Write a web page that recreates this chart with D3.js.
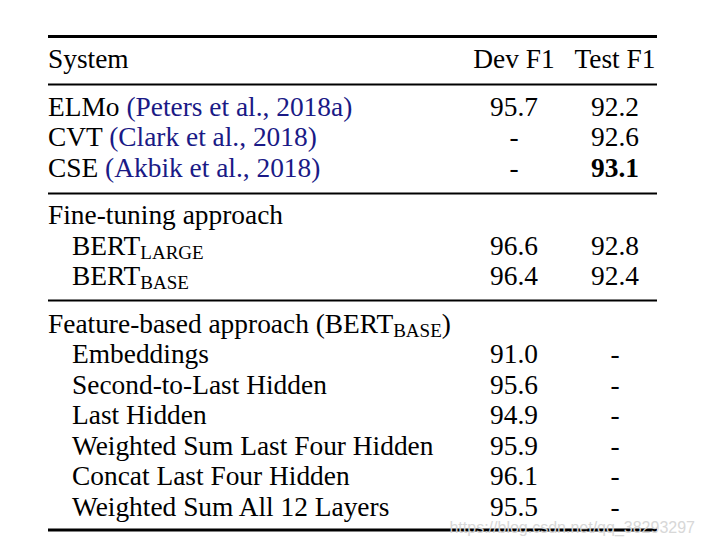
<!DOCTYPE html>
<html>
<head>
<meta charset="utf-8">
<script src="https://cdn.jsdelivr.net/npm/d3@7/dist/d3.min.js"></script>
<style>
  html, body { margin: 0; padding: 0; background: #fff; }
  svg { display: block; }
</style>
</head>
<body>
<svg id="chart" width="703" height="547"></svg>
<script>
// ---- data ----
const headers = ["System", "Dev F1", "Test F1"];
const groupTitles = [null, null, "Fine-tuning approach", "Feature-based approach (BERT|BASE|)"];
const systemNames = ["ELMo", "CVT", "CSE"];
const citations = ["(Peters et al., 2018a)", "(Clark et al., 2018)", "(Akbik et al., 2018)"];
const systemDev = ["95.7", "-", "-"];
const systemTest = ["92.2", "92.6", "93.1"];
const fineTuneNames = ["BERT|LARGE", "BERT|BASE"];
const fineTuneDev = ["96.6", "96.4"];
const fineTuneTest = ["92.8", "92.4"];
const featureNames = ["Embeddings", "Second-to-Last Hidden", "Last Hidden",
  "Weighted Sum Last Four Hidden", "Concat Last Four Hidden", "Weighted Sum All 12 Layers"];
const featureDev = ["91.0", "95.6", "94.9", "95.9", "96.1", "95.5"];
const featureTest = ["-", "-", "-", "-", "-", "-"];
const bestTest = "93.1";
const watermark = "https://blog.csdn.net/qq_38293297";

// ---- build rows ----
const rows = [];
let idx = 0;
rows.push({ i: idx++, g: 0, name: headers[0], dev: headers[1], test: headers[2], indent: false, header: true });
systemNames.forEach((n, k) => rows.push({ i: idx++, g: 1, name: n, cite: citations[k], dev: systemDev[k], test: systemTest[k], indent: false }));
rows.push({ i: idx++, g: 2, name: groupTitles[2], dev: "", test: "", indent: false });
fineTuneNames.forEach((n, k) => rows.push({ i: idx++, g: 2, name: n, dev: fineTuneDev[k], test: fineTuneTest[k], indent: true }));
rows.push({ i: idx++, g: 3, name: groupTitles[3], dev: "", test: "", indent: false });
featureNames.forEach((n, k) => rows.push({ i: idx++, g: 3, name: n, dev: featureDev[k], test: featureTest[k], indent: true }));

// ---- layout ----
const W = 703, H = 547;
const left = 48, right = 657;
const fontSize = 27.4, subSize = 19;
const pitch = 30.5, groupGap = 17, firstBase = 68;
const rowY = d3.scaleLinear().domain([0, 1]).range([firstBase, firstBase + pitch]);
const yOf = d => rowY(d.i) + d.g * groupGap;
const col = d3.scaleOrdinal().domain(["name", "dev", "test"]).range([left, 514, 615]);
const font = "'Liberation Serif', 'Times New Roman', Times, serif";

const svg = d3.select("#chart");
svg.append("rect").attr("width", W).attr("height", H).attr("fill", "#fff");

// rules
const lastOfGroup = d3.rollups(rows, v => d3.max(v, yOf), d => d.g).map(d => d[1]);
const rules = [
  { y: firstBase - 31.5, w: 3 },
  { y: lastOfGroup[0] + 16.5, w: 2.2 },
  { y: lastOfGroup[1] + 17, w: 2.2 },
  { y: lastOfGroup[2] + 15.5, w: 2.2 },
  { y: lastOfGroup[3] + 14.5, w: 3 }
];
svg.selectAll("line.rule").data(rules).join("line")
  .attr("class", "rule")
  .attr("x1", left).attr("x2", right)
  .attr("y1", d => d.y).attr("y2", d => d.y)
  .attr("stroke", "#000").attr("stroke-width", d => d.w);

// name column
const nameText = svg.selectAll("text.name").data(rows).join("text")
  .attr("class", "name")
  .attr("x", d => col("name") + (d.indent ? 24 : 0))
  .attr("y", yOf)
  .attr("font-family", font)
  .attr("font-size", fontSize)
  .attr("fill", "#000");

nameText.each(function(d) {
  const t = d3.select(this);
  const parts = d.name.split("|");
  t.append("tspan").text(parts[0]);
  if (parts.length > 1) {
    t.append("tspan").attr("font-size", subSize).attr("dy", 4).text(parts[1]);
    if (parts.length > 2) {
      t.append("tspan").attr("dy", -4).text(")");
    }
  }
  if (d.cite) {
    t.append("tspan").text(" ");
    t.append("tspan").attr("fill", "#1a1a86").text(d.cite);
  }
});

// value columns
["dev", "test"].forEach(key => {
  svg.selectAll("text." + key).data(rows).join("text")
    .attr("class", key)
    .attr("x", col(key))
    .attr("y", yOf)
    .attr("text-anchor", "middle")
    .attr("font-family", font)
    .attr("font-size", fontSize)
    .attr("font-weight", d => (key === "test" && d.test === bestTest) ? "bold" : "normal")
    .attr("fill", "#000")
    .text(d => d[key]);
});

// watermark
svg.append("text")
  .attr("x", 695).attr("y", 533)
  .attr("text-anchor", "end")
  .attr("font-family", "'Liberation Sans', Arial, sans-serif")
  .attr("font-size", 16)
  .attr("fill", "#d6d6d6")
  .attr("opacity", 0.95)
  .text(watermark);
</script>
</body>
</html>
